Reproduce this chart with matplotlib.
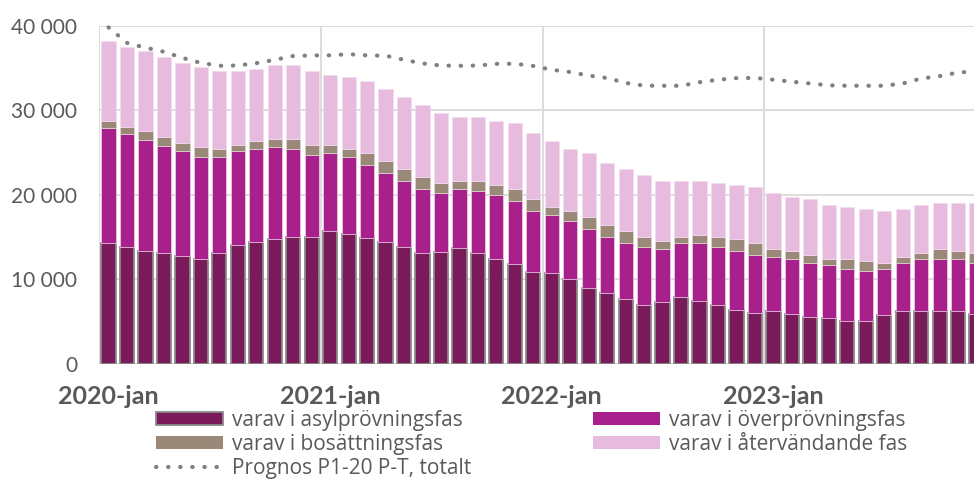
import numpy as np
import matplotlib
matplotlib.use('Agg')
import matplotlib.pyplot as plt
from matplotlib.patches import Patch
from matplotlib.lines import Line2D

plt.rcParams['font.family'] = ['Lato', 'DejaVu Sans']

# Months 2020-jan .. 2023-dec
month_names = ['jan', 'feb', 'mar', 'apr', 'maj', 'jun',
               'jul', 'aug', 'sep', 'okt', 'nov', 'dec']
months = [f'{y}-{m}' for y in (2020, 2021, 2022, 2023) for m in month_names]
tick_labels = ['2020-jan', '2021-jan', '2022-jan', '2023-jan']

# Stacked components
asyl = [14340, 13870, 13400, 13160, 12770, 12370, 13160, 14110, 14420, 14810, 15050, 15050,
        15760, 15370, 14890, 14420, 13790, 13080, 13240, 13710, 13080, 12450, 11820, 10910,
        10800, 10090, 8980, 8430, 7720, 7010, 7290, 7880, 7410, 7010, 6380, 5990,
        6230, 5910, 5520, 5440, 5120, 5120, 5830, 6300, 6300, 6300, 6230, 5910]
overprovning = [13510, 13280, 13040, 12610, 12450, 12140, 11350, 11110, 11030, 10880, 10400, 9690,
                9220, 9140, 8670, 8200, 7880, 7640, 7010, 7010, 7410, 7570, 7490, 7210,
                6860, 6860, 7010, 6620, 6620, 6860, 6340, 6460, 6940, 6860, 7010, 6930,
                6460, 6540, 6460, 6300, 6150, 5910, 5440, 5670, 6150, 6150, 6230, 6070]
bosattning = [910, 910, 1140, 1100, 950, 1180, 950, 710, 950, 950, 1180, 1180,
              950, 950, 1420, 1420, 1420, 1420, 1180, 950, 1180, 1180, 1420, 1420,
              950, 1180, 1420, 1420, 1420, 1180, 950, 710, 950, 1180, 1420, 1420,
              950, 950, 950, 710, 1180, 1180, 710, 710, 710, 1180, 950, 1180]
atervandande = [9460, 9460, 9460, 9460, 9460, 9460, 9220, 8750, 8510, 8750, 8750, 8750,
                8270, 8510, 8510, 8510, 8510, 8510, 8270, 7570, 7570, 7570, 7800, 7800,
                7800, 7330, 7570, 7330, 7330, 7330, 7090, 6620, 6380, 6380, 6380, 6620,
                6620, 6380, 6620, 6380, 6150, 6150, 6150, 5670, 5670, 5440, 5670, 5910]
prognos = [39800, 37970, 37400, 36920, 36190, 35600, 35260, 35300, 35570, 35960, 36420, 36480,
           36500, 36630, 36490, 36450, 35970, 35540, 35290, 35260, 35290, 35490, 35500, 35240,
           34790, 34520, 34100, 33810, 33230, 32910, 32900, 32900, 33320, 33610, 33800, 33830,
           33610, 33380, 33160, 32950, 32900, 32900, 32900, 33170, 33760, 34040, 34470, 34600]

c_asyl = '#7B1A5B'
c_over = '#A8208C'
c_bos = '#9A8878'
c_ater = '#E6BBDD'
c_grid = '#D9D9D9'
c_text = '#595959'
dots = (0, (0.1, 2.8))

fig = plt.figure(figsize=(9.74, 4.8), dpi=100)
ax = fig.add_axes([99.3 / 974, 1 - 364 / 480, 1 - 99.3 / 974, (364 - 25.7) / 480])

x = np.arange(len(months))
w = 0.77
a = np.array(asyl)
o = np.array(overprovning)
b = np.array(bosattning)
r = np.array(atervandande)

ax.bar(x, a, w, color=c_asyl, edgecolor='#8A8A8A', linewidth=1.3, zorder=3)
ax.bar(x, o, w, bottom=a, color=c_over, edgecolor='#F0D0E8', linewidth=0.5, zorder=3)
ax.bar(x, b, w, bottom=a + o, color=c_bos, edgecolor='#E0D8D0', linewidth=0.5, zorder=3)
ax.bar(x, r, w, bottom=a + o + b, color=c_ater, edgecolor='#F4DDF0', linewidth=0.5, zorder=3)

ax.plot(x, prognos, color='#808080', linewidth=3, linestyle=dots,
        dash_capstyle='round', zorder=4, clip_on=False)

ax.set_xlim(-0.5, 46.86)
ax.set_ylim(0, 40000)
ax.set_yticks([0, 10000, 20000, 30000, 40000])
ax.set_yticklabels(['0', '10 000', '20 000', '30 000', '40 000'])
ax.set_xticks([0, 12, 24, 36])
ax.set_xticklabels(tick_labels, fontweight='bold')
ax.set_xticks([-0.5, 11.5, 23.5, 35.5], minor=True)
ax.tick_params(axis='y', length=0, labelsize=15, labelcolor=c_text, pad=16)
ax.tick_params(axis='x', which='both', length=0, labelsize=18, labelcolor=c_text, pad=15)
ax.grid(axis='y', color=c_grid, linewidth=1.3, zorder=0)
ax.grid(axis='x', which='minor', color=c_grid, linewidth=1.3, zorder=0)
for s in ax.spines.values():
    s.set_visible(False)
ax.axhline(0, color=c_grid, linewidth=1.5, zorder=2)

# legend: two separate columns
leg_kw = dict(loc='upper left', frameon=False, prop={'family': 'Open Sans', 'size': 15},
              labelcolor=c_text, handlelength=3.2, handleheight=0.55, handletextpad=0.43,
              labelspacing=0.14, borderpad=0, borderaxespad=0)
h1 = [Patch(facecolor=c_asyl, edgecolor='#8A8A8A', linewidth=1.3),
      Patch(facecolor=c_bos, edgecolor='none'),
      Line2D([0], [0], color='#808080', linewidth=3, linestyle=dots, dash_capstyle='round')]
l1 = ['varav i asylprövningsfas', 'varav i bosättningsfas', 'Prognos P1-20 P-T, totalt']
h2 = [Patch(facecolor=c_over, edgecolor='none'),
      Patch(facecolor=c_ater, edgecolor='none')]
l2 = ['varav i överprövningsfas', 'varav i återvändande fas']
leg1 = fig.legend(h1, l1, bbox_to_anchor=(156 / 974, 1 - 410 / 480), **leg_kw)
leg2 = fig.legend(h2, l2, bbox_to_anchor=(593 / 974, 1 - 410 / 480), **leg_kw)

fig.savefig('out.png', dpi=100)
